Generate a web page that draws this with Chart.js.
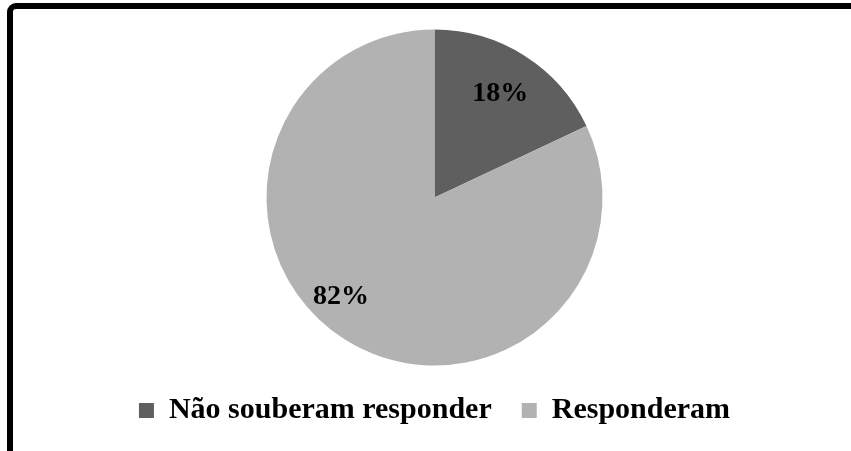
<!DOCTYPE html>
<html>
<head>
<meta charset="utf-8">
<script src="https://cdn.jsdelivr.net/npm/chart.js@4"></script>
<style>
  html, body { margin: 0; padding: 0; background: #fff; overflow: hidden; }
  #wrap { position: relative; width: 851px; height: 451px; }
  #frame {
    position: absolute; left: 7px; top: 3px; width: 860px; height: 460px;
    border: 6px solid #000; border-radius: 9px; pointer-events: none;
  }
</style>
</head>
<body>
<div id="wrap">
  <canvas id="myChart" width="851" height="451"></canvas>
  <div id="frame"></div>
</div>
<script>
const categorias = ['Não souberam responder', 'Responderam'];
const valores = [18, 82];
const cores = ['#5f5f5f', '#b2b2b2'];

// where each percent label sits: fraction of radius, angle shift (deg)
const posLabel = [
  { r: 0.73, shift: 0 },
  { r: 0.81, shift: 11 }
];

const fonte = '"Liberation Serif", "Times New Roman", serif';

const rotulos = {
  id: 'rotulos',
  afterDatasetsDraw(chart) {
    const ctx = chart.ctx;
    const meta = chart.getDatasetMeta(0);
    const total = valores.reduce((a, b) => a + b, 0);
    ctx.save();
    ctx.font = 'bold 28px ' + fonte;
    ctx.fillStyle = '#000';
    ctx.textAlign = 'center';
    ctx.textBaseline = 'middle';
    meta.data.forEach((arc, i) => {
      const p = arc.getProps(['x', 'y', 'startAngle', 'endAngle', 'outerRadius'], true);
      const a = (p.startAngle + p.endAngle) / 2 + posLabel[i].shift * Math.PI / 180;
      const r = p.outerRadius * posLabel[i].r;
      const txt = Math.round(valores[i] / total * 100) + '%';
      ctx.fillText(txt, p.x + Math.cos(a) * r, p.y + Math.sin(a) * r);
    });
    ctx.restore();
  }
};

const data = {
  labels: categorias,
  datasets: [{
    data: valores,
    backgroundColor: cores,
    borderWidth: 0
  }]
};

const config = {
  type: 'pie',
  data: data,
  plugins: [rotulos],
  options: {
    responsive: false,
    animation: false,
    layout: {
      padding: { top: 29.5, bottom: 15.5, left: 18, right: 0 }
    },
    plugins: {
      tooltip: { enabled: false },
      legend: {
        position: 'bottom',
        labels: {
          boxWidth: 15,
          boxHeight: 15,
          padding: 30,
          color: '#000',
          font: { family: fonte, size: 30, weight: 'bold' }
        }
      }
    }
  }
};

const myChart = new Chart(document.getElementById('myChart'), config);
</script>
</body>
</html>
